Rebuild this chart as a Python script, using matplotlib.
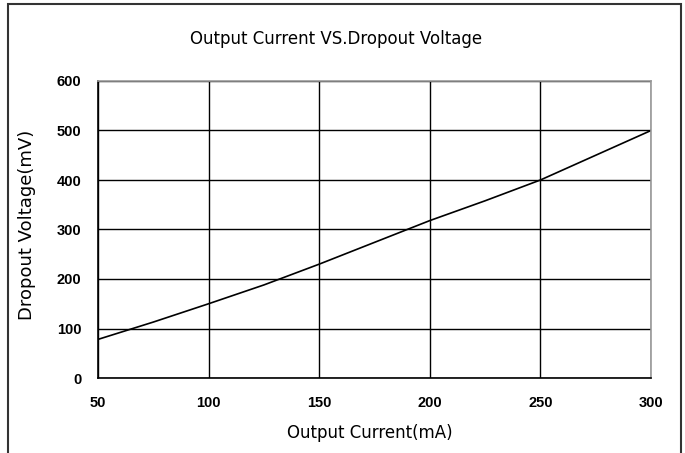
import matplotlib.pyplot as plt
from matplotlib.patches import Rectangle

current = [50, 75, 100, 125, 150, 175, 200, 225, 250, 275, 300]
dropout = [78, 113, 150, 188, 230, 274, 318, 358, 400, 450, 500]

x_ticks = [50, 100, 150, 200, 250, 300]
y_ticks = [0, 100, 200, 300, 400, 500, 600]

plt.rcParams['font.family'] = ['Liberation Sans', 'DejaVu Sans']

fig = plt.figure(figsize=(6.85, 4.53), dpi=100)
ax = fig.add_axes([98 / 685, 1 - 378 / 453, (651 - 98) / 685, (378 - 81) / 453])

# outer frame of the chart
fig.patches.append(Rectangle((8 / 685, -0.05), (681 - 8) / 685, 1.05 - 4 / 453,
                             transform=fig.transFigure, fill=False,
                             edgecolor='#333333', linewidth=1.5))

ax.plot(current, dropout, color='black', linewidth=1.2)
ax.set_xlim(50, 300)
ax.set_ylim(0, 600)
ax.set_xticks(x_ticks)
ax.set_yticks(y_ticks)
ax.grid(True, color='black', linewidth=1.0)
ax.tick_params(length=0, labelsize=10.5)
ax.tick_params(axis='x', pad=13)
ax.tick_params(axis='y', pad=12)
for lab in ax.get_xticklabels() + ax.get_yticklabels():
    lab.set_fontweight('bold')

ax.spines['left'].set_color('black')
ax.spines['bottom'].set_color('black')
ax.spines['top'].set_color('#999999')
ax.spines['right'].set_color('#999999')
for s in ax.spines.values():
    s.set_linewidth(1.2)

fig.text(336 / 685, 1 - 39 / 453, "Output Current VS.Dropout Voltage",
         ha='center', va='center', fontsize=12, family='DejaVu Sans')
fig.text(370 / 685, 1 - 433 / 453, "Output Current(mA)",
         ha='center', va='center', fontsize=12, family='DejaVu Sans')
fig.text(27 / 685, 1 - 225 / 453, "Dropout Voltage(mV)", rotation=90,
         ha='center', va='center', fontsize=13, family='DejaVu Sans')

fig.savefig("out.png", dpi=100)
